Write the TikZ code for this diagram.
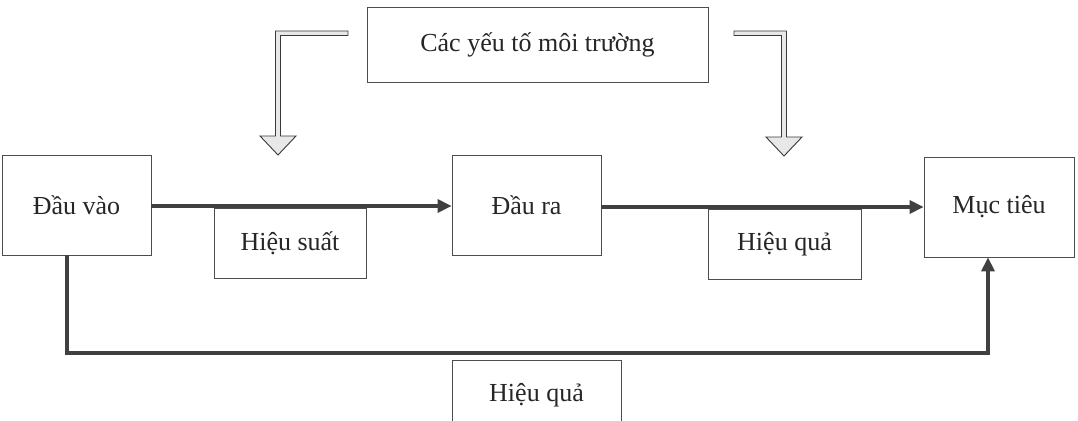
\documentclass[tikz,border=0pt]{standalone}
\usepackage{fontspec}
\setmainfont{Liberation Serif}
\usetikzlibrary{arrows.meta}
\begin{document}
\begin{tikzpicture}[x=1pt,y=-1pt,
  box/.style={draw=black!70,line width=0.8pt,fill=white,text=black!85,
    font=\fontsize{26}{30}\selectfont,inner sep=0pt},
  flow/.style={draw=gray!50!black,line width=3.4pt,
    -{Triangle[length=14pt,width=13pt]}},
  envarrow/.style={draw=gray!45!black,line width=0.9pt,fill=gray!18,line join=miter}]
\clip (0,0) rectangle (1078,420);
\fill[white] (0,0) rectangle (1078,420);
% nodes
\node[box,minimum width=341pt,minimum height=75pt] (env) at (537.5,44.5) {Các yếu tố môi trường};
\node[box,minimum width=149pt,minimum height=100pt] (in) at (76.5,205) {Đầu vào};
\node[box,minimum width=152pt,minimum height=70pt] (eff) at (290,243) {Hiệu suất};
\node[box,minimum width=149pt,minimum height=100pt] (out) at (526.5,205) {Đầu ra};
\node[box,minimum width=153pt,minimum height=70pt] (eff2) at (784.5,244) {Hiệu quả};
\node[box,minimum width=150pt,minimum height=100pt] (goal) at (999,207) {Mục tiêu};
\node[box,minimum width=169pt,minimum height=70pt] (eff3) at (536.5,395) {Hiệu quả};
% main flow
\draw[flow] ([yshift=-1pt]in.east) -- ([yshift=-1pt]out.west);
\draw[flow] (out.east |- goal.west) -- (goal.west);
% feedback
\coordinate (fb) at (500,353);
\draw[flow] ([xshift=-9.5pt]in.south) |- (fb) -| ([xshift=-11pt]goal.south);
% environment arrows (hollow shaft with triangular head)
\coordinate (e1t) at (278,155);
\draw[envarrow] (348,31) -- (275.5,31) -- (275.5,136) -- (260,136) -- (e1t)
  -- (296,136) -- (280.5,136) -- (280.5,35.5) -- (348,35.5) -- cycle;
\coordinate (e2t) at (784,156);
\draw[envarrow] (734,31) -- (786.5,31) -- (786.5,137) -- (802,137) -- (e2t)
  -- (766,137) -- (781.5,137) -- (781.5,35.5) -- (734,35.5) -- cycle;
\end{tikzpicture}
\end{document}
